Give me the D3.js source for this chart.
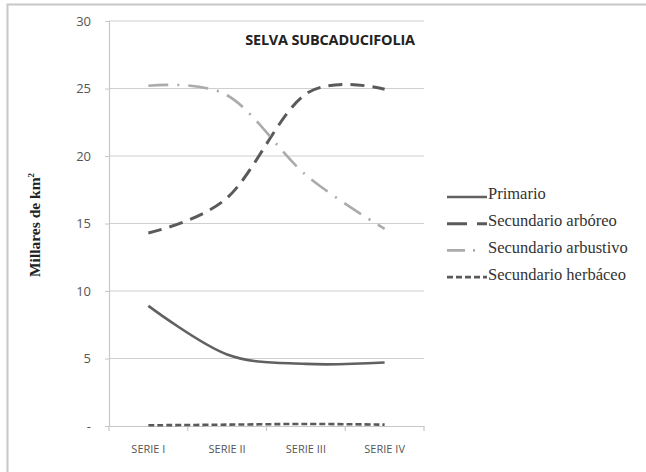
<!DOCTYPE html>
<html>
<head>
<meta charset="utf-8">
<script src="https://cdn.jsdelivr.net/npm/d3@7"></script>
<style>
  body { margin: 0; background: #fff; }
  svg { display: block; }
</style>
</head>
<body>
<svg id="chart" width="646" height="472"></svg>
<script>
// data (thousands of km2)
let categories = ["SERIE I", "SERIE II", "SERIE III", "SERIE IV"];
let primario = [8.9, 5.3, 4.6, 4.7];
let arboreo = [14.3, 16.9, 24.6, 24.95];
let arbustivo = [25.2, 24.5, 18.6, 14.6];
let herbaceo = [0.05, 0.1, 0.15, 0.1];
let yTicks = [0, 5, 10, 15, 20, 25, 30];
let seriesNames = ["Primario", "Secundario arbóreo", "Secundario arbustivo", "Secundario herbáceo"];

let svg = d3.select("#chart");

let margin = {top: 21, left: 109},
    width = 424 - 109,
    height = 426 - 21;

// frame (left and top edges only)
svg.append("path")
    .attr("d", "M 7.5 472 L 7.5 4.5 L 646 4.5")
    .attr("fill", "none")
    .attr("stroke", "#c8c8c8")
    .attr("stroke-width", 2);

let g = svg.append("g")
    .attr("transform", "translate(" + margin.left + "," + margin.top + ")");

let x = d3.scaleBand().domain(categories).range([0, width]);
let y = d3.scaleLinear().domain([0, 30]).range([height, 0]);

// gridlines
g.selectAll("line.grid")
    .data(yTicks.slice(1))
    .enter()
    .append("line")
    .attr("class", "grid")
    .attr("x1", 0)
    .attr("x2", width)
    .attr("y1", d => y(d))
    .attr("y2", d => y(d))
    .attr("stroke", "#cfcfcf")
    .attr("stroke-width", 1.2);

// y axis
let yAxis = g.append("g")
    .call(d3.axisLeft(y).tickValues(yTicks).tickSize(4).tickPadding(14)
        .tickFormat(d => d == 0 ? "-" : d));
yAxis.select(".domain").attr("stroke", "#c8c8c8").attr("stroke-width", 1.2);
yAxis.selectAll(".tick line").attr("stroke", "#c8c8c8");
yAxis.selectAll("text")
    .attr("fill", "#555")
    .style("font-family", "'Open Sans', sans-serif")
    .style("font-size", "13px");

// x axis, ticks on band edges
let xAxis = g.append("g")
    .attr("transform", "translate(0," + height + ")")
    .call(d3.axisBottom(x).tickSize(0).tickPadding(19));
xAxis.select(".domain").attr("stroke", "#c8c8c8").attr("stroke-width", 1.2);
xAxis.selectAll("text")
    .attr("fill", "#555")
    .style("font-family", "'Open Sans', sans-serif")
    .style("font-size", "11px");

g.selectAll("line.xtick")
    .data(categories)
    .enter()
    .append("line")
    .attr("class", "xtick")
    .attr("x1", d => x(d) + x.bandwidth())
    .attr("x2", d => x(d) + x.bandwidth())
    .attr("y1", height)
    .attr("y2", height + 5)
    .attr("stroke", "#c8c8c8")
    .attr("stroke-width", 1.2);
g.append("line")
    .attr("x1", 0).attr("x2", 0)
    .attr("y1", height).attr("y2", height + 5)
    .attr("stroke", "#c8c8c8")
    .attr("stroke-width", 1.2);

// series lines
let styles = [
    {data: primario, color: "#616161", width: 2.6, dash: null},
    {data: arboreo, color: "#5a5a5a", width: 3, dash: "14,8"},
    {data: arbustivo, color: "#ababab", width: 2.6, dash: "20,9,2,9"},
    {data: herbaceo, color: "#5a5a5a", width: 2.6, dash: "6,3"}
];

let line = d3.line()
    .x((d, i) => x(categories[i]) + x.bandwidth() / 2)
    .y(d => y(d))
    .curve(d3.curveCardinal.tension(0));

g.selectAll("path.series")
    .data(styles)
    .enter()
    .append("path")
    .attr("class", "series")
    .attr("d", d => line(d.data))
    .attr("fill", "none")
    .attr("stroke", d => d.color)
    .attr("stroke-width", d => d.width)
    .attr("stroke-dasharray", d => d.dash);

// title
svg.append("text")
    .attr("x", 330)
    .attr("y", 45)
    .attr("text-anchor", "middle")
    .style("font-family", "'Open Sans', sans-serif")
    .style("font-weight", "bold")
    .style("font-size", "14.5px")
    .style("letter-spacing", "-0.2px")
    .attr("fill", "#222")
    .text("SELVA SUBCADUCIFOLIA");

// y axis title
let yTitle = svg.append("text")
    .attr("transform", "translate(40,225) rotate(-90)")
    .attr("text-anchor", "middle")
    .style("font-family", "'Liberation Serif', serif")
    .style("font-weight", "bold")
    .style("font-size", "15.5px")
    .attr("fill", "#222");
yTitle.append("tspan").text("Millares de km");
yTitle.append("tspan").attr("dy", -6).style("font-size", "9px").text("2");

// legend
let legend = svg.append("g").attr("transform", "translate(447,197)");
let rows = legend.selectAll("g")
    .data(styles)
    .enter()
    .append("g")
    .attr("transform", (d, i) => "translate(0," + (i * 26.7) + ")");

rows.append("line")
    .attr("x1", 0)
    .attr("x2", 40)
    .attr("y1", 0)
    .attr("y2", 0)
    .attr("stroke", d => d.color)
    .attr("stroke-width", d => d.width)
    .attr("stroke-dasharray", (d, i) => i == 1 ? "20,10" : (i == 2 ? "18,8,2,20" : d.dash));

rows.append("text")
    .attr("x", 41)
    .attr("y", 0)
    .attr("dy", "0.15em")
    .style("font-family", "'Liberation Serif', serif")
    .style("font-size", "16.5px")
    .attr("fill", "#333")
    .text((d, i) => seriesNames[i]);
</script>
</body>
</html>
